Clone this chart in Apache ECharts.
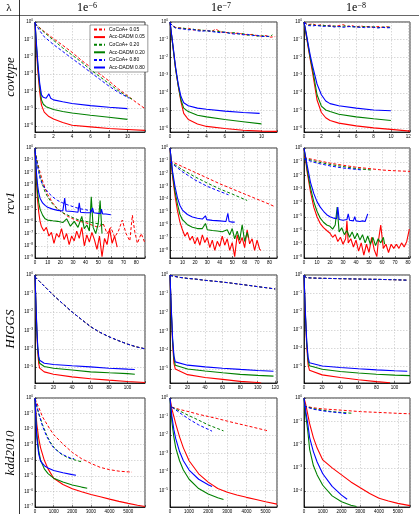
<!DOCTYPE html>
<html><head><meta charset="utf-8">
<script src="https://cdn.jsdelivr.net/npm/echarts@6/dist/echarts.min.js"></script>
<style>html,body{margin:0;padding:0;background:#fff}#c{width:419px;height:514px}</style>
</head><body><div id="c"></div>
<script>
// ---------- tick / label texts ----------
const seriesNames = ['CoCoA+ 0.05','Acc-DADM 0.05','CoCoA+ 0.20','Acc-DADM 0.20','CoCoA+ 0.80','Acc-DADM 0.80'];
const colHeaders = ['−6','−7','−8'];
const rowLabels = ['covtype','rcv1','HIGGS','kdd2010'];

// ---------- covtype, lambda 1e-6 ----------
const cov6_c05 = [[0,0.79],[1,0.28],[2,0.11],[3,0.045],[4,0.018],[5,0.0063],[6,0.0025],[7,0.001],[8,4.0e-4],[9,1.4e-4],[10,5.6e-5],[11,2.2e-5],[11.9,1.0e-5]];
const cov6_a05 = [[0,1],[0.15,0.032],[0.3,0.0016],[0.5,1e-4],[0.7,1.6e-5],[1,6.3e-6],[1.5,3.5e-6],[2,2.5e-6],[3,1.6e-6],[4,1.1e-6],[6,8.9e-7],[8,7.1e-7],[10,6.3e-7],[11.9,5.6e-7]];
const cov6_c20 = [[0,0.79],[1,0.25],[2,0.089],[3,0.032],[4,0.0126],[5,0.005],[6,0.0018],[7,7.1e-4],[8,2.8e-4],[9,1.1e-4],[10,5.0e-5],[10.5,3.5e-5]];
const cov6_a20 = [[0,1],[0.15,0.05],[0.3,0.0032],[0.5,2.0e-4],[0.7,3.2e-5],[0.9,1.8e-5],[1.2,1.3e-5],[2,8.9e-6],[3,6.8e-6],[4,5.6e-6],[6,4.2e-6],[8,3.2e-6],[10,2.4e-6]];
const cov6_c80 = [[0,0.89],[0.5,0.32],[1,0.14],[2,0.05],[3,0.02],[4,0.0079],[5,0.0032],[6,0.00126],[7,5.0e-4],[8,2.0e-4],[9,8.9e-5],[10.2,4.0e-5]];
const cov6_a80 = [[0,1],[0.15,0.063],[0.3,0.005],[0.5,3.2e-4],[0.7,6.3e-5],[0.9,4.5e-5],[1.2,4.0e-5],[1.5,7.1e-5],[1.7,4.0e-5],[2,3.2e-5],[3,2.5e-5],[4,2.0e-5],[6,1.5e-5],[8,1.2e-5],[10,1.0e-5]];

// ---------- covtype, lambda 1e-7 ----------
const cov7_c05 = [[0,0.89],[0.3,0.63],[0.6,0.5],[1,0.48],[1.5,0.42],[2,0.45],[2.5,0.35],[3,0.38],[3.5,0.32],[4,0.35],[4.5,0.28],[5,0.4],[5.5,0.28],[6,0.25],[6.5,0.26],[7,0.22],[7.5,0.24],[8,0.2],[8.5,0.19],[9,0.2],[9.5,0.17],[10,0.16],[10.5,0.17],[11,0.14],[11.5,0.15]];
const cov7_a05 = [[0,1],[0.3,0.05],[0.6,0.0025],[0.9,2.5e-4],[1.2,3.2e-5],[1.5,7.1e-6],[2,3.2e-6],[3,1.8e-6],[4,1.3e-6],[6,1.0e-6],[8,7.9e-7],[10,7.1e-7],[11.7,6.8e-7]];
const cov7_c20 = [[0,0.89],[0.3,0.6],[0.6,0.48],[1,0.45],[1.5,0.45],[2,0.38],[2.5,0.4],[3,0.34],[3.5,0.36],[4,0.3],[4.5,0.33],[5,0.28],[5.5,0.3],[6,0.26],[6.5,0.24],[7,0.25],[7.5,0.21],[8,0.22],[8.5,0.18],[9,0.19],[9.5,0.16],[10,0.17],[10.5,0.15],[11,0.16],[11.2,0.19]];
const cov7_a20 = [[0,1],[0.3,0.05],[0.6,0.0025],[0.9,2.5e-4],[1.2,4.0e-5],[1.5,1.4e-5],[2,8.9e-6],[3,5.6e-6],[4,4.5e-6],[6,3.2e-6],[8,2.4e-6],[10,1.8e-6]];
const cov7_c80 = [[0,0.89],[0.3,0.58],[0.6,0.46],[1,0.42],[1.5,0.4],[2,0.36],[2.5,0.38],[3,0.32],[3.5,0.3],[4,0.33],[4.5,0.29],[5,0.27],[5.5,0.25],[6,0.27],[6.5,0.23],[7,0.21],[7.5,0.22],[8,0.19],[8.5,0.2],[9,0.17],[9.5,0.18],[10,0.15],[10.5,0.16],[10.8,0.15]];
const cov7_a80 = [[0,1],[0.3,0.063],[0.6,0.0032],[0.9,3.2e-4],[1.2,6.3e-5],[1.5,2.8e-5],[2,1.9e-5],[3,1.4e-5],[4,1.2e-5],[6,9.5e-6],[8,7.9e-6],[9.8,7.1e-6]];

// ---------- covtype, lambda 1e-8 ----------
const cov8_c05 = [[0,0.95],[0.5,0.71],[1,0.79],[1.5,0.63],[2,0.71],[2.5,0.6],[3,0.66],[3.5,0.56],[4,0.63],[4.5,0.71],[5,0.56],[5.5,0.63],[6,0.52],[6.5,0.6],[7,0.54],[7.5,0.56],[8,0.5],[8.5,0.56],[9,0.5],[9.5,0.54],[10,0.5]];
const cov8_a05 = [[0,1],[0.25,0.18],[0.5,0.032],[0.75,0.0063],[1,0.00126],[1.5,4.0e-5],[2,7.9e-6],[2.5,4.0e-6],[3,2.8e-6],[4,2.0e-6],[6,1.4e-6],[8,1.07e-6],[10,8.9e-7],[12.2,7.1e-7]];
const cov8_c20 = [[0,0.95],[0.5,0.66],[1,0.71],[1.5,0.6],[2,0.66],[2.5,0.63],[3,0.56],[3.5,0.6],[4,0.54],[4.5,0.58],[5,0.6],[5.5,0.52],[6,0.56],[6.5,0.5],[7,0.56],[7.5,0.52],[8,0.54],[8.5,0.48],[9,0.52],[9.5,0.5],[10,0.52]];
const cov8_a20 = [[0,1],[0.25,0.2],[0.5,0.04],[0.75,0.0079],[1,0.002],[1.5,7.9e-5],[2,1.8e-5],[2.5,1.1e-5],[3,8.9e-6],[4,6.3e-6],[6,4.5e-6],[8,3.5e-6],[10,2.8e-6]];
const cov8_c80 = [[0,0.95],[0.5,0.63],[1,0.6],[1.5,0.66],[2,0.56],[2.5,0.58],[3,0.6],[3.5,0.52],[4,0.56],[4.5,0.5],[5,0.54],[5.5,0.56],[6,0.5],[6.5,0.52],[7,0.48],[7.5,0.52],[8,0.5],[8.5,0.46],[9,0.5],[9.5,0.47],[10,0.48]];
const cov8_a80 = [[0,1],[0.25,0.25],[0.5,0.05],[0.75,0.011],[1,0.0032],[1.5,3.2e-4],[2,7.9e-5],[2.5,3.5e-5],[3,2.5e-5],[4,1.9e-5],[6,1.4e-5],[8,1.1e-5],[10,1.0e-5]];

// ---------- rcv1, lambda 1e-6 ----------
const rcv6_c05 = [[0,0.63],[2,0.063],[4,0.01],[6,0.002],[8,5e-4],[10,1.6e-4],[14,3.2e-5],[18,1e-5],[22,5e-6],[26,2.5e-6],[30,1.6e-6],[35,1e-6],[40,7.9e-7],[45,5e-7],[50,3.2e-7],[54,6.3e-7],[57,1e-7],[60,3.2e-7],[63,5e-8],[66,1.6e-7],[69,1.26e-6],[72,1e-7],[75,2.5e-8],[77,3.2e-6],[79,1.26e-7],[81,1.6e-8],[84,1e-7],[87,1.6e-8]];
const rcv6_a05 = [[0,1],[1,0.0032],[2,6.3e-5],[3,5e-6],[4,1e-6],[5,4e-7],[7,1.6e-7],[9,3.2e-7],[11,6.3e-8],[13,1.26e-7],[15,1.6e-8],[17,1e-7],[19,5e-8],[21,2.5e-7],[23,3.2e-8],[25,1e-7],[27,1.26e-8],[29,6.3e-8],[31,2.5e-8],[33,1.6e-7],[35,4e-8],[37,3.2e-7],[39,1e-8],[41,7.9e-8],[43,2e-8],[45,1.26e-7],[47,3.2e-8],[49,5e-9],[51,6.3e-8],[53,1.26e-9],[55,4e-8],[57,1.26e-8],[59,2.5e-7],[61,1.6e-8],[63,6.3e-8],[65,7.9e-9]];
const rcv6_c20 = [[0,0.63],[2,0.05],[4,0.005],[6,0.001],[8,2.5e-4],[10,1e-4],[14,2.5e-5],[18,1e-5],[22,5e-6],[26,3.2e-6],[30,2e-6],[35,1.26e-6],[40,1e-6],[45,7.9e-7],[50,6.3e-7],[55,5e-7]];
const rcv6_a20 = [[0,1],[1,0.0063],[2,2.5e-4],[3,3.2e-5],[4,1e-5],[6,3.2e-6],[8,1.6e-6],[10,1.26e-6],[14,1.1e-6],[18,1e-6],[22,7.9e-7],[25,1.6e-6],[28,4e-7],[31,1e-6],[34,3.2e-7],[37,2.5e-6],[39,2.5e-7],[41,5e-7],[43,1.6e-7],[44.5,1e-4],[46,3.2e-7],[48,1e-7],[50,6.3e-7],[51.5,5e-5],[53,1e-7]];
const rcv6_c80 = [[0,0.5],[2,0.032],[4,0.0032],[6,0.001],[8,5e-4],[10,2.5e-4],[14,1e-4],[18,5e-5],[22,3.2e-5],[26,2.2e-5],[30,1.6e-5],[35,1.1e-5],[40,8.9e-6],[47,6.3e-6]];
const rcv6_a80 = [[0,1],[1,0.016],[2,1e-3],[3,2e-4],[4,7.9e-5],[6,3.2e-5],[8,2e-5],[10,1.4e-5],[14,1e-5],[18,7.9e-6],[22,7.1e-6],[23.5,7.9e-5],[24.5,7.1e-6],[30,6.3e-6],[34,5.6e-6],[35,3.2e-5],[36,5.6e-6],[40,5e-6],[44,5e-6],[45.5,1.26e-5],[46.5,5e-6],[50,4.5e-6],[52,4.5e-6],[52.5,1e-5],[53.5,4e-6],[56,4e-6],[60,3.5e-6]];

// ---------- rcv1, lambda 1e-7 ----------
const rcv7_c05 = [[0,0.1],[10,0.035],[20,0.0126],[30,0.0045],[40,0.0016],[50,6.3e-4],[60,2.5e-4],[70,1e-4],[80,4e-5],[84.5,2.5e-5]];
const rcv7_a05 = [[0,1],[2,0.0063],[4,2e-4],[6,1.26e-5],[8,1.6e-6],[10,4e-7],[12,1.26e-7],[14,2.5e-7],[16,6.3e-8],[18,1.26e-7],[20,3.2e-8],[22,1e-7],[24,2.5e-8],[26,1.6e-7],[28,4e-8],[30,1e-7],[32,1.6e-8],[34,6.3e-8],[36,1e-8],[38,5e-8],[40,2e-8],[42,1.26e-7],[44,2.5e-8],[46,7.9e-8],[48,1e-8],[50,4e-8],[52,3.2e-9],[54,1.6e-7],[56,3.2e-8],[58,1e-7],[60,1.6e-8],[62,4e-7],[64,3.2e-8],[66,7.9e-8],[68,1e-8],[70,6.3e-8],[72,1.26e-8],[73,1e-8]];
const rcv7_c20 = [[0,0.089],[10,0.02],[20,0.0056],[30,0.0018],[40,6.3e-4],[50,2.5e-4],[62,7.9e-5]];
const rcv7_a20 = [[0,1],[2,0.01],[4,4e-4],[6,4e-5],[8,6.3e-6],[10,2.5e-6],[14,1e-6],[18,6.3e-7],[22,5e-7],[26,5e-7],[28.5,1.26e-6],[30,4e-7],[34,3.5e-7],[38,3.2e-7],[42,2.8e-7],[46,4e-7],[48,1.6e-7],[50,5e-7],[52,7.9e-8],[54,3.2e-7],[56,6.3e-8],[58,1e-6],[60,5e-8],[62,2.5e-7],[63,1e-7]];
const rcv7_c80 = [[0,0.079],[10,0.014],[20,0.0032],[30,1e-3],[40,4e-4],[47,2.2e-4]];
const rcv7_a80 = [[0,1],[2,0.016],[4,1e-3],[6,1.26e-4],[8,3.2e-5],[10,1.4e-5],[14,6.3e-6],[18,4e-6],[22,3.2e-6],[26,2.8e-6],[28.5,5e-6],[29.5,2.5e-6],[34,2.2e-6],[40,2e-6],[45,1.8e-6],[46.5,7.9e-6],[47.5,1.8e-6],[50,1.6e-6],[52,1.6e-6]];

// ---------- rcv1, lambda 1e-8 ----------
const rcv8_c05 = [[0,0.2],[10,0.126],[20,0.079],[30,0.056],[40,0.04],[50,0.032],[60,0.025],[70,0.022],[81.5,0.02]];
const rcv8_a05 = [[0,1],[2.5,0.016],[5,6.3e-4],[7.5,5e-5],[10,1e-5],[12.5,3.2e-6],[15,1.6e-6],[17.5,1e-6],[20,6.3e-7],[22,3.2e-7],[24,5e-7],[26,1.6e-7],[28,3.2e-7],[30,1e-7],[32,2.5e-7],[33,5e-6],[34,1.26e-7],[36,2.5e-7],[38,6.3e-8],[40,2e-7],[42,3.2e-8],[44,1.26e-7],[46,1.6e-8],[48,1e-7],[50,2.5e-8],[52,3.2e-7],[54,4e-8],[56,1.26e-8],[57,1.26e-7],[59,2.5e-6],[61,5e-8],[63,1e-7],[65,2.5e-8],[67,1e-7],[69,5e-8],[71,1e-7],[73,5e-8],[75,1.26e-7],[77,6.3e-8],[79,1.6e-7],[81,1.26e-6]];
const rcv8_c20 = [[0,0.18],[10,0.1],[20,0.063],[30,0.045],[40,0.032],[52,0.025]];
const rcv8_a20 = [[0,1],[2.5,0.025],[5,1.26e-3],[7.5,1.26e-4],[10,2.5e-5],[12.5,7.9e-6],[15,4e-6],[17.5,2.5e-6],[20,2e-6],[22,1.26e-6],[24,2.5e-6],[25.5,5e-5],[27,7.9e-7],[29,1.6e-6],[31,5e-7],[33,1e-6],[35,3.2e-7],[37,7.9e-7],[39,2.5e-7],[41,6.3e-7],[43,2e-7],[45,5e-7],[47,1.26e-7],[49,4e-7],[51,1e-7],[53,3.2e-7],[55,7.9e-8],[57,2.5e-7],[59,1.26e-7],[61,3.2e-7],[62,1e-7]];
const rcv8_c80 = [[0,0.16],[10,0.079],[20,0.05],[30,0.035],[40,0.028],[45,0.025]];
const rcv8_a80 = [[0,1],[2.5,0.05],[5,0.0032],[7.5,5e-4],[10,1.26e-4],[12.5,5e-5],[15,2.5e-5],[17.5,1.4e-5],[20,1e-5],[23,7.9e-6],[25,7.1e-6],[26,5e-5],[27,6.3e-6],[30,5.6e-6],[33,6.3e-6],[34,1.6e-5],[35,5.6e-6],[38,5e-6],[39,1e-5],[40,5e-6],[43,4.5e-6],[45,5e-6],[47,4.5e-6],[49,1.6e-5]];

// ---------- HIGGS ----------
const hig6_cocoa = [[0,0.79],[10,0.25],[20,0.079],[30,0.028],[40,0.01],[50,0.004],[60,0.0016],[70,7.9e-4],[80,4.5e-4],[90,2.8e-4],[100,1.8e-4],[110,1.26e-4],[119,1e-4]];
const hig6_a05 = [[0,1],[1,0.02],[2,7.9e-4],[3,6.3e-5],[4,1.6e-5],[5,8.9e-6],[7,7.1e-6],[10,5.6e-6],[20,4.2e-6],[40,3e-6],[60,2.4e-6],[80,2e-6],[100,1.7e-6],[119,1.5e-6]];
const hig6_a20 = [[0,1],[1,0.025],[2,1e-3],[3,1e-4],[4,2.8e-5],[5,1.66e-5],[7,1.3e-5],[10,1.1e-5],[20,8.9e-6],[40,7.1e-6],[60,5.6e-6],[80,5e-6],[100,4.5e-6],[108,4.2e-6]];
const hig6_a80 = [[0,1],[1,0.032],[2,1.26e-3],[3,1.26e-4],[4,4e-5],[5,2.4e-5],[7,1.9e-5],[10,1.66e-5],[20,1.4e-5],[40,1.2e-5],[60,1.05e-5],[80,8.9e-6],[100,7.9e-6],[108,7.6e-6]];
const hig7_cocoa = [[0,0.95],[1,0.79],[10,0.76],[20,0.66],[30,0.6],[40,0.52],[50,0.47],[60,0.42],[70,0.37],[80,0.32],[90,0.28],[100,0.24],[110,0.21],[120,0.18]];
const hig7_a05 = [[0,1],[1.5,0.01],[3,2e-4],[4.5,2e-5],[6,1e-5],[8,7.9e-6],[20,5e-6],[40,3.5e-6],[60,2.8e-6],[80,2.2e-6],[100,1.9e-6],[104,1.8e-6]];
const hig7_a20 = [[0,1],[1.5,0.0126],[3,3.2e-4],[4.5,3.5e-5],[6,1.6e-5],[8,1.3e-5],[20,1e-5],[40,7.9e-6],[60,6.3e-6],[80,5.2e-6],[100,4.6e-6],[118,4.2e-6]];
const hig7_a80 = [[0,1],[1.5,0.016],[3,4e-4],[4.5,5e-5],[6,2.4e-5],[8,2e-5],[20,1.6e-5],[40,1.3e-5],[60,1.1e-5],[80,9.5e-6],[100,8.3e-6],[118,7.6e-6]];
const hig8_cocoa = [[0,0.89],[3,0.71],[10,0.68],[20,0.66],[40,0.63],[60,0.6],[80,0.58],[100,0.55],[115,0.52]];
const hig8_a05 = [[0,1],[1.5,0.0063],[3,1.26e-4],[4.5,1.26e-5],[6,6.3e-6],[8,5e-6],[20,3.5e-6],[40,2.5e-6],[60,1.9e-6],[80,1.5e-6],[95,1.3e-6]];
const hig8_a20 = [[0,1],[1.5,0.0079],[3,2e-4],[4.5,2.2e-5],[6,1.1e-5],[8,9.5e-6],[20,7.1e-6],[40,5.4e-6],[60,4.4e-6],[80,3.8e-6],[100,3.4e-6],[117,3.2e-6]];
const hig8_a80 = [[0,1],[1.5,0.01],[3,2.5e-4],[4.5,3.2e-5],[6,1.6e-5],[8,1.3e-5],[20,1.07e-5],[40,8.9e-6],[60,7.6e-6],[80,6.6e-6],[100,5.9e-6],[114,5.5e-6]];

// ---------- kdd2010 ----------
const kdd6_c05 = [[0,0.89],[200,0.25],[400,0.063],[600,0.025],[800,0.01],[1000,0.0045],[1500,0.0011],[2000,3.2e-4],[2500,1.26e-4],[3000,6.3e-5],[3500,3.5e-5],[4000,2.5e-5],[4500,2e-5],[5000,1.8e-5],[5200,1.74e-5]];
const kdd6_a05 = [[0,1],[50,0.1],[100,0.02],[200,0.0025],[300,6.3e-4],[500,1e-4],[700,2.8e-5],[1000,7.1e-6],[1500,2.8e-6],[2000,1.5e-6],[2500,9.5e-7],[3000,6.3e-7],[3500,4.5e-7],[4000,3.2e-7],[4500,2.3e-7],[5000,1.7e-7],[5500,1.3e-7],[5900,1.07e-7]];
const kdd6_c20 = [[0,0.79],[200,0.1],[400,0.02],[600,0.005],[800,0.0016],[1000,7.1e-4],[1400,2.5e-4],[1800,1.4e-4],[2200,1e-4],[2500,7.9e-5]];
const kdd6_a20 = [[0,1],[50,0.05],[100,0.005],[200,4e-4],[300,1e-4],[500,2.8e-5],[700,1.4e-5],[1000,7.1e-6],[1500,4e-6],[2000,2.6e-6],[2500,1.9e-6],[2800,1.6e-6]];
const kdd6_c80 = [[0,0.89],[200,0.1],[400,0.016],[600,0.004],[800,0.0014],[1000,6.3e-4],[1300,3.2e-4],[1600,2e-4],[1900,1.4e-4],[2100,1.26e-4]];
const kdd6_a80 = [[0,1],[50,0.032],[100,0.0025],[200,2.5e-4],[300,8.9e-5],[500,4.5e-5],[700,3.2e-5],[1000,2.2e-5],[1500,1.6e-5],[2000,1.2e-5],[2200,1.1e-5]];
const kdd7_c05 = [[100,0.32],[500,0.24],[1000,0.18],[1500,0.13],[2000,0.1],[2500,0.076],[3000,0.056],[3500,0.042],[4000,0.032],[4500,0.024],[5000,0.018],[5100,0.0166]];
const kdd7_a05 = [[0,1],[100,0.25],[200,0.1],[300,0.04],[500,0.0079],[700,0.002],[1000,4e-4],[1500,7.9e-5],[2000,2.8e-5],[2500,1.26e-5],[3000,7.9e-6],[3500,5.6e-6],[4000,4.2e-6],[4500,3.2e-6],[5000,2.4e-6],[5600,1.8e-6]];
const kdd7_c20 = [[100,0.32],[500,0.2],[1000,0.11],[1500,0.063],[2000,0.035],[2500,0.022],[2800,0.0166]];
const kdd7_a20 = [[0,1],[100,0.05],[200,0.0079],[300,0.002],[500,4e-4],[700,1.26e-4],[1000,4e-5],[1500,1.26e-5],[2000,6.3e-6],[2500,4e-6],[2800,3.2e-6]];
const kdd7_c80 = [[100,0.32],[500,0.16],[1000,0.071],[1500,0.035],[2000,0.02],[2200,0.016]];
const kdd7_a80 = [[0,1],[100,0.1],[200,0.02],[300,0.0063],[500,1.26e-3],[700,4e-4],[1000,1.26e-4],[1500,4e-5],[2000,2e-5],[2200,1.6e-5]];
const kdd8_c05 = [[0,0.45],[500,0.38],[1000,0.34],[1500,0.32],[2000,0.3],[3000,0.26],[4000,0.24],[5000,0.22],[5650,0.21]];
const kdd8_a05 = [[0,1],[100,0.5],[200,0.2],[300,0.079],[500,0.02],[700,0.0071],[1000,0.0022],[1500,0.001],[2000,5e-4],[2500,2.5e-4],[3000,1.4e-4],[3500,7.9e-5],[4000,5e-5],[4500,3.8e-5],[5000,3e-5],[5650,2.4e-5]];
const kdd8_c20 = [[0,0.45],[500,0.35],[1000,0.3],[1500,0.26],[2000,0.24],[2600,0.22]];
const kdd8_a20 = [[0,1],[100,0.16],[200,0.04],[300,0.0063],[500,1.26e-3],[700,5e-4],[1000,1.8e-4],[1500,6.3e-5],[2000,3.5e-5],[2500,2.5e-5],[2800,2.2e-5]];
const kdd8_c80 = [[0,0.45],[500,0.33],[1000,0.28],[1500,0.25],[2000,0.23],[2300,0.21]];
const kdd8_a80 = [[0,1],[100,0.25],[200,0.079],[300,0.02],[500,0.005],[700,0.0018],[1000,5.6e-4],[1500,1.6e-4],[2000,6.8e-5],[2300,4.5e-5]];

// ---------- panels (axis extents) ----------
const panels = [
  {row:0,col:0,xMax:11.9,xInt:2,yMin:4.5e-7,yMax:1,data:[cov6_c05,cov6_a05,cov6_c20,cov6_a20,cov6_c80,cov6_a80]},
  {row:0,col:1,xMax:11.7,xInt:2,yMin:6.3e-7,yMax:1,data:[cov7_c05,cov7_a05,cov7_c20,cov7_a20,cov7_c80,cov7_a80]},
  {row:0,col:2,xMax:12.2,xInt:2,yMin:6.3e-7,yMax:1,data:[cov8_c05,cov8_a05,cov8_c20,cov8_a20,cov8_c80,cov8_a80]},
  {row:1,col:0,xMax:87,xInt:10,yMin:1e-9,yMax:1,data:[rcv6_c05,rcv6_a05,rcv6_c20,rcv6_a20,rcv6_c80,rcv6_a80]},
  {row:1,col:1,xMax:86,xInt:10,yMin:2.5e-9,yMax:1,data:[rcv7_c05,rcv7_a05,rcv7_c20,rcv7_a20,rcv7_c80,rcv7_a80]},
  {row:1,col:2,xMax:81.5,xInt:10,yMin:1e-8,yMax:1,data:[rcv8_c05,rcv8_a05,rcv8_c20,rcv8_a20,rcv8_c80,rcv8_a80]},
  {row:2,col:0,xMax:119,xInt:20,yMin:1.4e-6,yMax:1,data:[hig6_cocoa,hig6_a05,hig6_cocoa,hig6_a20,hig6_cocoa,hig6_a80]},
  {row:2,col:1,xMax:122,xInt:20,yMin:1.8e-6,yMax:1,data:[hig7_cocoa,hig7_a05,hig7_cocoa,hig7_a20,hig7_cocoa,hig7_a80]},
  {row:2,col:2,xMax:117,xInt:20,yMin:1.26e-6,yMax:1,data:[hig8_cocoa,hig8_a05,hig8_cocoa,hig8_a20,hig8_cocoa,hig8_a80]},
  {row:3,col:0,xMax:5900,xInt:1000,yMin:1e-7,yMax:1,data:[kdd6_c05,kdd6_a05,kdd6_c20,kdd6_a20,kdd6_c80,kdd6_a80]},
  {row:3,col:1,xMax:5600,xInt:1000,yMin:1.26e-6,yMax:1,data:[kdd7_c05,kdd7_a05,kdd7_c20,kdd7_a20,kdd7_c80,kdd7_a80]},
  {row:3,col:2,xMax:5650,xInt:1000,yMin:2.1e-5,yMax:1,data:[kdd8_c05,kdd8_a05,kdd8_c20,kdd8_a20,kdd8_c80,kdd8_a80]}
];

// ---------- layout & style ----------
const colL = [35,170,304], colR = [145,277,410];
const rowT = [22,148,275,398], rowB = [132,258,383,508];
const colors = ['#ff0000','#ff0000','#008000','#008000','#0000ff','#0000ff'];
const SERIF = '"Liberation Serif","DejaVu Serif",serif';

const grids=[], xAxes=[], yAxes=[], series=[];
panels.forEach((p,i)=>{
  grids.push({left:colL[p.col], top:rowT[p.row], width:colR[p.col]-colL[p.col], height:rowB[p.row]-rowT[p.row],
    show:true, borderColor:'#000', borderWidth:0.8, backgroundColor:'#fff'});
  xAxes.push({type:'value', gridIndex:i, min:0, max:p.xMax, interval:p.xInt,
    axisLine:{show:true,onZero:false,lineStyle:{color:'#000',width:0.8}},
    axisTick:{show:true,inside:true,length:2,lineStyle:{color:'#000',width:0.5}},
    splitLine:{show:true,lineStyle:{color:'#b0b0b0',type:[1.5,1.5],width:0.5}},
    axisLabel:{fontSize:4.5,color:'#000',margin:2,hideOverlap:false,
      formatter:(v)=>{const k=v/p.xInt;return Math.abs(k-Math.round(k))<1e-6?String(Math.round(v)):'';}}
  });
  yAxes.push({type:'log', logBase:10, gridIndex:i, min:p.yMin, max:p.yMax, splitNumber:10,
    axisLine:{show:true,lineStyle:{color:'#000',width:0.8}},
    axisTick:{show:true,inside:true,length:2,lineStyle:{color:'#000',width:0.5}},
    splitLine:{show:true,lineStyle:{color:'#b0b0b0',type:[1.5,1.5],width:0.5}},
    axisLabel:{color:'#000',margin:2,hideOverlap:false,
      formatter:(v)=>{const e=Math.log10(v);const r=Math.round(e);if(Math.abs(e-r)>0.01)return '';return '{b|10}{s|'+(r<0?'−'+(-r):r)+'}';},
      rich:{b:{fontSize:4.5,color:'#000'},s:{fontSize:3.2,color:'#000',verticalAlign:'top',padding:[0,0,3,0]}}}
  });
  p.data.forEach((d,k)=>{
    const dashed = (k%2===0);
    series.push({type:'line', name:seriesNames[k], xAxisIndex:i, yAxisIndex:i, data:d,
      showSymbol:false, symbol:'none', animation:false, clip:true, z:2+k,
      lineStyle:{color:colors[k], width:dashed?1:1.1, type:dashed?[3,2]:'solid'},
      itemStyle:{color:colors[k]}});
  });
});

const graphic = [
  {type:'line',shape:{x1:0,y1:15.5,x2:419,y2:15.5},style:{stroke:'#000',lineWidth:0.6}},
  {type:'line',shape:{x1:19.5,y1:0,x2:19.5,y2:514},style:{stroke:'#000',lineWidth:0.8}},
  {type:'text',x:9,y:8,style:{text:'λ',font:'11px '+SERIF,fill:'#000',align:'center',verticalAlign:'middle'}}
];
const headX=[87,221,356];
colHeaders.forEach((h,c)=>graphic.push({type:'text',x:headX[c],y:8,style:{text:'{a|1e}{s|'+h+'}',align:'center',verticalAlign:'middle',
  rich:{a:{fontSize:12,fontFamily:SERIF,fill:'#000'},s:{fontSize:8,fontFamily:SERIF,fill:'#000',verticalAlign:'top'}}}}));
const rowCY=[77,203,329,453];
rowLabels.forEach((t,r)=>graphic.push({type:'text',x:11,y:rowCY[r],rotation:Math.PI/2,
  style:{text:t,font:'italic 13px '+SERIF,fill:'#000',align:'center',verticalAlign:'middle'}}));

const chart = echarts.init(document.getElementById('c'),null,{renderer:'canvas'});
chart.setOption({
  animation:false,
  backgroundColor:'#fff',
  grid:grids, xAxis:xAxes, yAxis:yAxes, series:series, graphic:graphic,
  legend:{left:90,top:25,orient:'vertical',data:seriesNames,itemWidth:11,itemHeight:5,itemGap:2.6,
    padding:[2,3,2,3],backgroundColor:'#fff',borderColor:'#333',borderWidth:0.5,
    itemStyle:{opacity:0},
    textStyle:{fontSize:5,color:'#000',padding:[0,0,0,-1]},selectedMode:false}
});
</script></body></html>
